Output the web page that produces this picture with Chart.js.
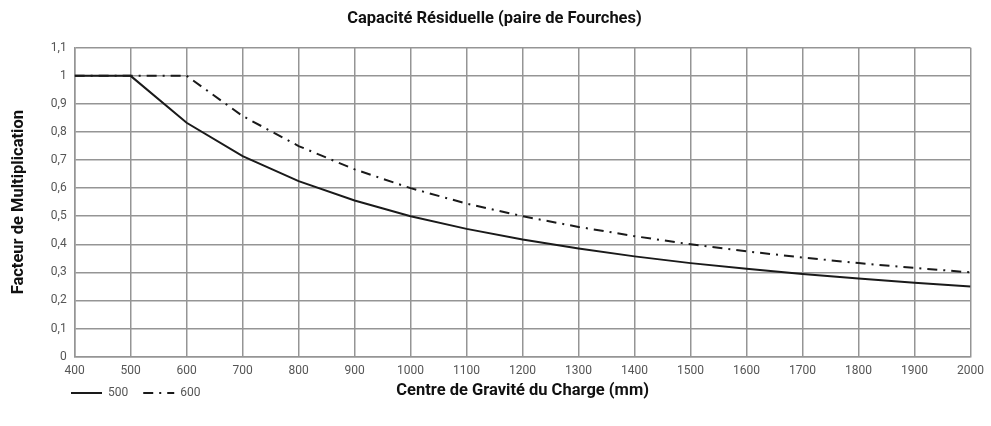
<!DOCTYPE html>
<html lang="fr">
<head>
<meta charset="UTF-8">
<title>Capacité Résiduelle</title>
<script src="https://cdn.jsdelivr.net/npm/chart.js"></script>
<style>
    html, body { margin: 0; padding: 0; background: #fff; }
    .wrap { width: 991px; height: 426px; position: relative; }
</style>
</head>
<body>
<div class="wrap">
    <canvas id="capaciteChart"></canvas>
</div>
<script>
// centre de gravité (mm)
const centres = [400, 500, 600, 700, 800, 900, 1000, 1100, 1200, 1300, 1400, 1500, 1600, 1700, 1800, 1900, 2000];
// facteur de multiplication
const facteur500 = [1, 1, 0.833, 0.714, 0.625, 0.556, 0.5, 0.455, 0.417, 0.385, 0.357, 0.333, 0.313, 0.294, 0.278, 0.263, 0.25];
const facteur600 = [1, 1, 1, 0.857, 0.75, 0.667, 0.6, 0.545, 0.5, 0.462, 0.429, 0.4, 0.375, 0.353, 0.333, 0.316, 0.3];
const yTickLabels = ['0', '0,1', '0,2', '0,3', '0,4', '0,5', '0,6', '0,7', '0,8', '0,9', '1', '1,1'];

const gridColor = '#959595';
const tickColor = '#555';

// titre de l'axe x, sur la même ligne que la légende
const xTitlePlugin = {
    id: 'xTitle',
    afterLayout: (chart) => {
        // placer la légende à gauche, sur la ligne du titre de l'axe x
        chart.legend.left = 56;
        chart.legend.top -= 13;
    },
    afterDraw: (chart) => {
        const ctx = chart.ctx;
        const area = chart.chartArea;
        ctx.save();
        ctx.fillStyle = '#111';
        ctx.font = 'bold 16.5px Roboto';
        ctx.textAlign = 'center';
        ctx.textBaseline = 'middle';
        ctx.fillText('Centre de Gravité du Charge (mm)', (area.left + area.right) / 2, 391);
        ctx.restore();
    }
};

const ctx = document.getElementById('capaciteChart').getContext('2d');
new Chart(ctx, {
    type: 'line',
    data: {
        datasets: [{
            label: '500',
            data: centres.map((x, i) => ({x: x, y: facteur500[i]})),
            borderColor: '#1a1a1a',
            borderWidth: 2,
            pointRadius: 0,
            tension: 0,
            fill: false
        }, {
            label: '600',
            data: centres.map((x, i) => ({x: x, y: facteur600[i]})),
            borderColor: '#1a1a1a',
            borderWidth: 2,
            borderDash: [10, 6, 2, 6],
            pointRadius: 0,
            tension: 0,
            fill: false
        }]
    },
    options: {
        responsive: true,
        maintainAspectRatio: false,
        animation: false,
        layout: {
            padding: { left: 0, right: 2, top: 0, bottom: 4 }
        },
        scales: {
            x: {
                type: 'linear',
                min: 400,
                max: 2000,
                ticks: {
                    stepSize: 100,
                    color: tickColor,
                    font: { family: 'Roboto', size: 12 },
                    padding: 7,
                    maxRotation: 0,
                    callback: (value) => String(value)
                },
                grid: { color: gridColor, lineWidth: 1.5, drawTicks: false },
                border: { color: gridColor, width: 1.5 }
            },
            y: {
                min: 0,
                max: 1.1,
                ticks: {
                    stepSize: 0.1,
                    color: tickColor,
                    font: { family: 'Roboto', size: 12 },
                    padding: 8,
                    callback: (value, index) => yTickLabels[index]
                },
                grid: { color: gridColor, lineWidth: 1.5, drawTicks: false },
                border: { color: gridColor, width: 1.5 },
                title: {
                    display: true,
                    text: 'Facteur de Multiplication',
                    color: '#111',
                    font: { family: 'Roboto', size: 16.5, weight: 'bold' },
                    padding: { top: 9, bottom: 14 }
                }
            }
        },
        plugins: {
            title: {
                display: true,
                text: 'Capacité Résiduelle (paire de Fourches)',
                color: '#111',
                font: { family: 'Roboto', size: 16.5, weight: 'bold' },
                padding: { top: 9, bottom: 19 }
            },
            legend: {
                position: 'bottom',
                align: 'start',
                onClick: (e) => e.stopPropagation(),
                labels: {
                    usePointStyle: true,
                    pointStyle: 'line',
                    pointStyleWidth: 31,
                    color: tickColor,
                    font: { family: 'Roboto', size: 12 },
                    padding: 15,
                    generateLabels: (chart) => {
                        const items = Chart.defaults.plugins.legend.labels.generateLabels(chart);
                        items.forEach((item) => {
                            const ds = chart.data.datasets[item.datasetIndex];
                            item.lineDash = ds.borderDash || [];
                            item.lineWidth = 2;
                            item.strokeStyle = ds.borderColor;
                        });
                        return items;
                    }
                }
            },
            tooltip: { enabled: false }
        }
    },
    plugins: [xTitlePlugin]
});
</script>
</body>
</html>
